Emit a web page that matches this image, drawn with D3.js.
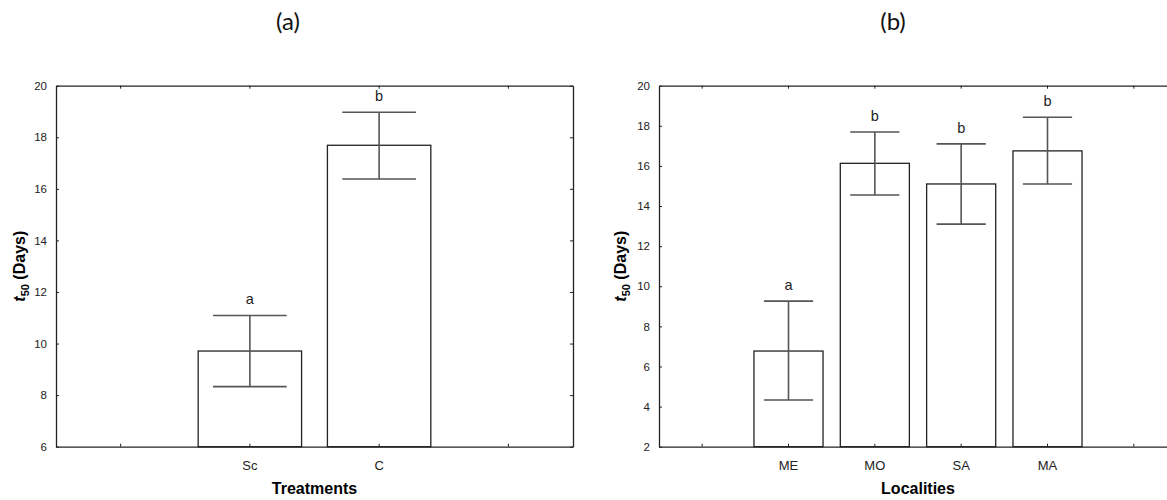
<!DOCTYPE html>
<html>
<head>
<meta charset="utf-8">
<script src="https://cdn.jsdelivr.net/npm/d3@7"></script>
<style>
  body { margin: 0; background: #fff; }
  svg { display: block; }
  .tick text { font-family: "Liberation Sans", Arial, sans-serif; fill: #222; }
</style>
</head>
<body>
<svg width="1167" height="500"></svg>
<script>
// panel (a)
var slotsA = ["la", "Sc", "C", "ra"];
var catsA = ["Sc", "C"];
var meanA = [9.71, 17.69];
var upA = [11.09, 18.97];
var lowA = [8.33, 16.38];
var letterA = ["a", "b"];
var ticksA = [6, 8, 10, 12, 14, 16, 18, 20];

// panel (b)
var slotsB = ["lb", "ME", "MO", "SA", "MA", "rb"];
var catsB = ["ME", "MO", "SA", "MA"];
var meanB = [6.77, 16.13, 15.1, 16.75];
var upB = [9.26, 17.69, 17.1, 18.43];
var lowB = [4.33, 14.55, 13.1, 15.1];
var letterB = ["a", "b", "b", "b"];
var ticksB = [2, 4, 6, 8, 10, 12, 14, 16, 18, 20];

var svg = d3.select("svg");

function panel(o) {
  var g = svg.append("g");
  var x = d3.scaleBand().domain(o.slots).range([o.x0, o.x1]).paddingInner(0).paddingOuter(0);
  var y = d3.scaleLinear().domain([o.ticks[0], o.ticks[o.ticks.length - 1]]).range([o.yb, o.yt]);
  var labelFmt = function(d) { return o.cats.indexOf(d) >= 0 ? d : ""; };

  // bars
  var data = o.cats.map(function(c, i) {
    return {c: c, m: o.mean[i], u: o.up[i], l: o.low[i], t: o.letter[i]};
  });
  var bw = x.bandwidth() * 0.8;
  var cw = x.bandwidth() * 0.57;
  var cx = function(d) { return x(d.c) + x.bandwidth() / 2; };

  g.selectAll("rect.bar").data(data).enter().append("rect")
    .attr("class", "bar")
    .attr("x", function(d) { return cx(d) - bw / 2; })
    .attr("width", bw)
    .attr("y", function(d) { return y(d.m); })
    .attr("height", function(d) { return o.yb - y(d.m); })
    .attr("fill", "#fff").attr("stroke", "#222").attr("stroke-width", 1.3);

  // error bars
  var eb = g.selectAll("g.eb").data(data).enter().append("g").attr("class", "eb")
    .attr("stroke", "#555").attr("stroke-width", 1.6);
  eb.append("line")
    .attr("x1", cx).attr("x2", cx)
    .attr("y1", function(d) { return y(d.u); }).attr("y2", function(d) { return y(d.l); });
  eb.append("line")
    .attr("x1", function(d) { return cx(d) - cw / 2; }).attr("x2", function(d) { return cx(d) + cw / 2; })
    .attr("y1", function(d) { return y(d.u); }).attr("y2", function(d) { return y(d.u); });
  eb.append("line")
    .attr("x1", function(d) { return cx(d) - cw / 2; }).attr("x2", function(d) { return cx(d) + cw / 2; })
    .attr("y1", function(d) { return y(d.l); }).attr("y2", function(d) { return y(d.l); });

  g.selectAll("text.let").data(data).enter().append("text")
    .attr("class", "let")
    .attr("x", cx).attr("y", function(d) { return y(d.u) - 11; })
    .attr("text-anchor", "middle")
    .style("font-family", "Liberation Sans, Arial, sans-serif").style("font-size", "14.5px").attr("fill", "#222")
    .text(function(d) { return d.t; });

  // frame with inward ticks
  var left = g.append("g").attr("transform", "translate(" + o.x0 + ",0)")
    .call(d3.axisLeft(y).tickValues(o.ticks).tickSizeInner(-3).tickSizeOuter(0).tickPadding(9));
  left.selectAll(".tick text").style("font-size", "11.5px");
  g.append("g").attr("transform", "translate(" + o.x1 + ",0)")
    .call(d3.axisRight(y).tickValues(o.ticks).tickSizeInner(-3).tickSizeOuter(0).tickFormat(""));
  var bottom = g.append("g").attr("transform", "translate(0," + o.yb + ")")
    .call(d3.axisBottom(x).tickSizeInner(-3).tickSizeOuter(0).tickPadding(14).tickFormat(labelFmt));
  bottom.selectAll(".tick text").style("font-size", "13px");
  g.append("g").attr("transform", "translate(0," + o.yt + ")")
    .call(d3.axisTop(x).tickSizeInner(-3).tickSizeOuter(0).tickFormat(""));
  g.selectAll(".domain").attr("stroke", "#222").attr("stroke-width", 1.3);
  g.selectAll(".tick line").attr("stroke", "#222");

  // titles
  g.append("text")
    .attr("x", (o.x0 + o.x1) / 2 - o.xshift).attr("y", 494)
    .attr("text-anchor", "middle")
    .style("font-family", "Liberation Sans, Arial, sans-serif").style("font-size", "16px").style("font-weight", "bold")
    .text(o.xtitle);

  var yt = g.append("text")
    .attr("transform", "translate(" + o.ytx + "," + ((o.yt + o.yb) / 2) + ") rotate(-90)")
    .attr("text-anchor", "middle")
    .style("font-family", "Liberation Sans, Arial, sans-serif").style("font-size", "16px").style("font-weight", "bold");
  yt.append("tspan").style("font-style", "italic").text("t");
  yt.append("tspan").attr("dy", 4).style("font-size", "11px").text("50");
  yt.append("tspan").attr("dy", -4).text(" (Days)");

  g.append("text")
    .attr("x", o.titleX).attr("y", 30)
    .attr("text-anchor", "middle")
    .style("font-family", "Lato, Carlito, sans-serif").style("font-size", "24px").attr("fill", "#111")
    .text(o.title);
}

panel({slots: slotsA, cats: catsA, mean: meanA, up: upA, low: lowA, letter: letterA, ticks: ticksA,
  x0: 56, x1: 573, yt: 85.7, yb: 446.7, xtitle: "Treatments", xshift: 0, ytx: 25, title: "(a)", titleX: 288});
panel({slots: slotsB, cats: catsB, mean: meanB, up: upB, low: lowB, letter: letterB, ticks: ticksB,
  x0: 659, x1: 1177, yt: 85.7, yb: 446.7, xtitle: "Localities", xshift: 0, ytx: 626, title: "(b)", titleX: 893});
</script>
</body>
</html>
